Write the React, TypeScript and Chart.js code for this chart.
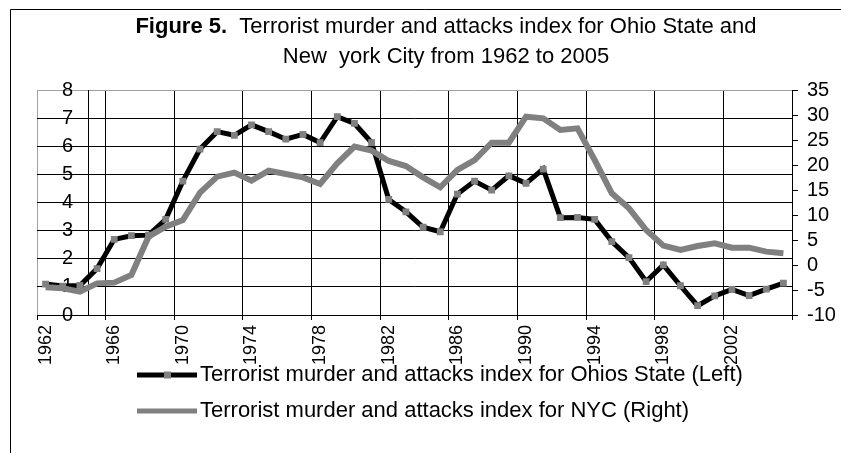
import React, { useEffect, useRef } from "react";
import { Chart, registerables } from "chart.js";

Chart.register(...registerables);

const YEARS = [
  "1962", "1963", "1964", "1965", "1966", "1967", "1968", "1969", "1970", "1971",
  "1972", "1973", "1974", "1975", "1976", "1977", "1978", "1979", "1980", "1981",
  "1982", "1983", "1984", "1985", "1986", "1987", "1988", "1989", "1990", "1991",
  "1992", "1993", "1994", "1995", "1996", "1997", "1998", "1999", "2000", "2001",
  "2002", "2003", "2004", "2005",
];

// Ohio (left axis)
const OHIO = [
  1.1, 1.03, 1.05, 1.65, 2.69, 2.82, 2.84, 3.4, 4.76, 5.9,
  6.52, 6.39, 6.76, 6.52, 6.25, 6.42, 6.13, 7.05, 6.81, 6.13,
  4.11, 3.67, 3.12, 2.96, 4.3, 4.76, 4.44, 4.95, 4.68, 5.19,
  3.46, 3.47, 3.4, 2.61, 2.04, 1.19, 1.78, 1.04, 0.33, 0.68,
  0.91, 0.69, 0.92, 1.13,
];

// NYC (right axis)
const NYC = [
  -4.47, -4.67, -5.33, -3.67, -3.53, -2.0, 5.67, 7.67, 9.0, 14.47,
  17.67, 18.47, 16.87, 18.87, 18.2, 17.53, 16.2, 20.33, 23.67, 22.87,
  20.8, 19.8, 17.53, 15.53, 19.0, 21.0, 24.47, 24.47, 29.67, 29.33,
  27.0, 27.33, 21.0, 14.33, 11.33, 7.0, 3.87, 3.0, 3.8, 4.33,
  3.47, 3.47, 2.67, 2.33,
];

const LEFT_MIN = 0;
const LEFT_MAX = 8;
const LEFT_STEP = 1;
const RIGHT_MIN = -10;
const RIGHT_MAX = 35;
const RIGHT_STEP = 5;
const LABEL_EVERY = 4;
const LEFT_AXIS_CROSS = 2.5; // category index where the left value axis crosses

const TITLE_BOLD = "Figure 5.";
const TITLE_REST = "  Terrorist murder and attacks index for Ohio State and";
const TITLE_LINE2 = "New  york City from 1962 to 2005";
const LABEL_OHIO = "Terrorist murder and attacks index for Ohios State (Left)";
const LABEL_NYC = "Terrorist murder and attacks index for NYC (Right)";

const FONT = "'Liberation Sans', Arial, Helvetica, sans-serif";
const BLACK = "#000000";
const GRAY = "#808080";
const BORDER_GRAY = "#a0a0a0";
const TEXT_SIZE = 22;

Chart.defaults.font.family = FONT;
Chart.defaults.color = BLACK;

const decorPlugin = {
  id: "decor",
  beforeDraw(chart: any) {
    const ctx = chart.ctx;
    ctx.save();
    ctx.fillStyle = "#ffffff";
    ctx.fillRect(0, 0, chart.width, chart.height);
    ctx.strokeStyle = BLACK;
    ctx.lineWidth = 1;
    ctx.beginPath();
    ctx.moveTo(10.5, chart.height);
    ctx.lineTo(10.5, 9.5);
    ctx.lineTo(chart.width, 9.5);
    ctx.stroke();
    ctx.restore();
  },
  beforeDatasetsDraw(chart: any) {
    const ctx = chart.ctx;
    const { top, bottom } = chart.chartArea;
    const x = Math.round(chart.scales.x.getPixelForValue(LEFT_AXIS_CROSS)) + 0.5;
    ctx.save();
    ctx.strokeStyle = BLACK;
    ctx.lineWidth = 1;
    ctx.beginPath();
    ctx.moveTo(x, top);
    ctx.lineTo(x, bottom);
    ctx.stroke();
    ctx.restore();
  },
  afterDraw(chart: any) {
    const ctx = chart.ctx;
    ctx.save();
    ctx.fillStyle = BLACK;
    ctx.textBaseline = "middle";
    ctx.textAlign = "left";
    // title
    const cx = 446;
    ctx.font = `bold ${TEXT_SIZE}px ${FONT}`;
    const wb = ctx.measureText(TITLE_BOLD).width;
    ctx.font = `${TEXT_SIZE}px ${FONT}`;
    const wr = ctx.measureText(TITLE_REST).width;
    const x0 = cx - (wb + wr) / 2;
    ctx.font = `bold ${TEXT_SIZE}px ${FONT}`;
    ctx.fillText(TITLE_BOLD, x0, 27);
    ctx.font = `${TEXT_SIZE}px ${FONT}`;
    ctx.fillText(TITLE_REST, x0 + wb, 27);
    ctx.textAlign = "center";
    ctx.fillText(TITLE_LINE2, cx, 57);

    // legend
    const ds = chart.data.datasets;
    const rows = [
      { d: ds[1], y: 375 },
      { d: ds[0], y: 411 },
    ];
    ctx.textAlign = "left";
    for (const r of rows) {
      ctx.strokeStyle = r.d.borderColor;
      ctx.lineWidth = 5;
      ctx.beginPath();
      ctx.moveTo(137, r.y);
      ctx.lineTo(197, r.y);
      ctx.stroke();
      if (r.d.pointRadius > 0) {
        ctx.fillStyle = r.d.pointBackgroundColor;
        ctx.fillRect(164, r.y - 3.5, 7, 7);
      }
      ctx.fillStyle = BLACK;
      ctx.font = `${TEXT_SIZE}px ${FONT}`;
      ctx.fillText(r.d.label, 200, r.y);
    }
    ctx.restore();
  },
};

export default function App() {
  const ref = useRef<HTMLCanvasElement | null>(null);

  useEffect(() => {
    if (!ref.current) return;
    const chart = new Chart(ref.current, {
      type: "line",
      data: {
        labels: YEARS,
        datasets: [
          {
            label: LABEL_NYC,
            data: NYC,
            yAxisID: "y2",
            borderColor: GRAY,
            borderWidth: 6,
            pointRadius: 0,
            tension: 0,
            order: 0,
          },
          {
            label: LABEL_OHIO,
            data: OHIO,
            yAxisID: "y",
            borderColor: BLACK,
            borderWidth: 5,
            pointRadius: 4.8,
            pointStyle: "rect",
            pointBackgroundColor: GRAY,
            pointBorderColor: GRAY,
            pointBorderWidth: 0,
            tension: 0,
            order: 1,
          },
        ],
      },
      options: {
        responsive: false,
        animation: false,
        devicePixelRatio: 1,
        layout: { padding: { top: 90, left: 37, right: 0, bottom: 0 } },
        plugins: {
          legend: { display: false },
          title: { display: false },
          tooltip: { enabled: false },
        },
        scales: {
          x: {
            type: "category",
            offset: true,
            grid: {
              offset: true,
              drawOnChartArea: true,
              tickLength: 5,
              color: (c: any) =>
                c.index === undefined
                  ? BLACK
                  : c.index === 0
                  ? BORDER_GRAY
                  : c.index % LABEL_EVERY === 0
                  ? BLACK
                  : "rgba(0,0,0,0)",
              tickColor: (c: any) =>
                c.index === undefined || c.index % LABEL_EVERY === 0 ? BLACK : "rgba(0,0,0,0)",
            },
            border: { display: true, color: BLACK, width: 1 },
            ticks: {
              autoSkip: false,
              maxRotation: 90,
              minRotation: 90,
              padding: 5,
              color: BLACK,
              font: { size: 18, family: FONT },
              callback: (_v: any, i: number) => (i % LABEL_EVERY === 0 ? YEARS[i] : ""),
            },
            afterFit: (s: any) => {
              s.height = 138;
            },
          },
          y: {
            type: "linear",
            position: "left",
            min: LEFT_MIN,
            max: LEFT_MAX,
            grid: {
              drawTicks: false,
              color: (c: any) => (c.tick && c.tick.value === LEFT_MAX ? BORDER_GRAY : BLACK),
            },
            border: { display: false },
            ticks: {
              stepSize: LEFT_STEP,
              autoSkip: false,
              mirror: true,
              padding: 25,
              color: BLACK,
              font: { size: 20, family: FONT },
            },
            afterFit: (s: any) => {
              s.width = 0;
            },
          },
          y2: {
            type: "linear",
            position: "right",
            min: RIGHT_MIN,
            max: RIGHT_MAX,
            grid: { drawOnChartArea: false, tickLength: 6, color: BLACK },
            border: { display: true, color: BLACK, width: 1 },
            ticks: {
              stepSize: RIGHT_STEP,
              autoSkip: false,
              padding: 9,
              color: BLACK,
              font: { size: 20, family: FONT },
            },
            afterFit: (s: any) => {
              s.width = 49;
            },
          },
        },
      },
      plugins: [decorPlugin],
    } as any);
    return () => chart.destroy();
  }, []);

  return (
    <div style={{ position: "absolute", left: 0, top: 0, width: 841, height: 453, background: "#fff" }}>
      <canvas ref={ref} width={841} height={453} style={{ display: "block" }} />
    </div>
  );
}
